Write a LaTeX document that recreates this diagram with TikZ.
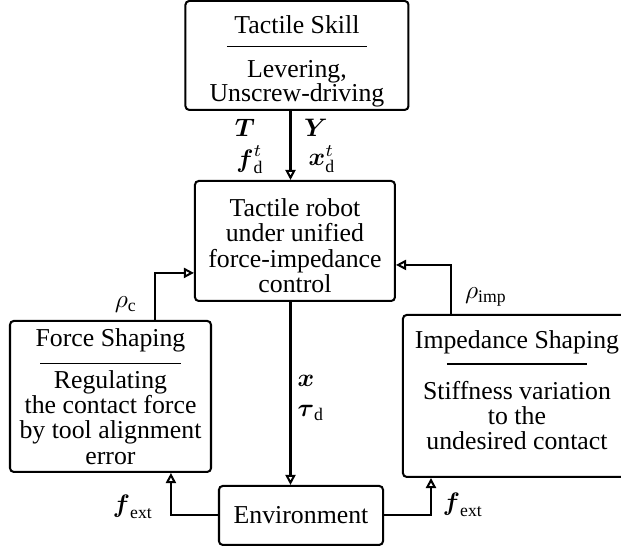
\documentclass[tikz,border=0pt]{standalone}
\usepackage{amsmath}
\usepackage{fontspec}
\setmainfont{Liberation Serif}
\usetikzlibrary{arrows.meta}
\newcommand{\titlerule}[1][0pt]{\smash{\rule[#1]{1.95cm}{0.6pt}}}
\newcommand{\upstrut}[1]{\rule{0pt}{#1}}
\newcommand{\downstrut}[1]{\rule[-#1]{0pt}{#1}}
\begin{document}
\begin{tikzpicture}[
    block/.style={draw, thick, rounded corners=1.5pt, align=center, inner sep=1pt,
        font=\fontsize{10.2}{10}\selectfont},
    line/.style={thick, -{Triangle[open, width=4pt, length=4pt]}},
    lbl/.style={inner sep=0pt, font=\fontsize{10}{10}\selectfont}
    ]
    \useasboundingbox (0,0) rectangle (8.632,7.617);

    \node[block, minimum width=3.10cm, minimum height=1.43cm] (skill) at (4.128,6.846)
        {\upstrut{12pt}Tactile Skill\\[-5pt]\titlerule[-0.4pt]\\[2.4pt]Levering,\\[-0.5pt]Unscrew-driving};
    \node[block, minimum width=2.78cm, minimum height=1.668cm] (robot) at (4.10,4.267)
        {\upstrut{10.8pt}Tactile robot\\under unified\\force-impedance\\control};
    \node[block, minimum width=2.28cm, minimum height=0.82cm] (env) at (4.184,0.452)
        {Environment};
    \node[block, minimum width=2.794cm, minimum height=2.099cm] (force) at (1.536,2.106)
        {Force Shaping\\[-3pt]\titlerule\\[-0.4pt]Regulating\\the contact force\\by tool alignment\\error};
    \node[block, minimum width=3.17cm, minimum height=2.252cm] (imped) at (7.186,2.113)
        {Impedance Shaping\\[-3.5pt]\titlerule\\[3.6pt]Stiffness variation\\to the\\undesired contact\downstrut{4.7pt}};

    \coordinate (sk) at ([xshift=-0.09cm]skill.south);
    \draw[line] (sk) -- (sk |- robot.north);
    \draw[line] (sk |- robot.south) -- (sk |- env.north);
    \draw[line] ([xshift=0.62cm]force.north) |- ([yshift=-0.444cm]robot.west);
    \draw[line] ([xshift=-0.917cm]imped.north) |- ([yshift=-0.333cm]robot.east);
    \draw[line] (env.west) -| ([xshift=0.84cm]force.south);
    \draw[line] (env.east) -| ([xshift=-1.195cm]imped.south);

    \node[lbl] (lT) at (3.406,5.838) {$\boldsymbol{T}$};
    \node[lbl] (lY) at (4.392,5.838) {$\boldsymbol{Y}$};
    \node[lbl] (lfd) at (3.475,5.40) {$\boldsymbol{f}_{\mathrm{d}}^{t}$};
    \node[lbl] (lxd) at (4.476,5.40) {$\boldsymbol{x}_{\mathrm{d}}^{t}$};
    \node[lbl] (lrc) at (1.751,3.378) {$\rho_{\mathrm{c}}$};
    \node[lbl] (lri) at (6.755,3.489) {$\rho_{\mathrm{imp}}$};
    \node[lbl, anchor=west] (lx) at (4.13,2.321) {$\boldsymbol{x}$};
    \node[lbl, anchor=west] (ltau) at (4.13,1.877) {$\boldsymbol{\tau}_{\mathrm{d}}$};
    \node[lbl] (lfl) at (1.849,0.570) {$\boldsymbol{f}_{\mathrm{ext}}$};
    \node[lbl] (lfr) at (6.436,0.598) {$\boldsymbol{f}_{\mathrm{ext}}$};
\end{tikzpicture}
\end{document}
